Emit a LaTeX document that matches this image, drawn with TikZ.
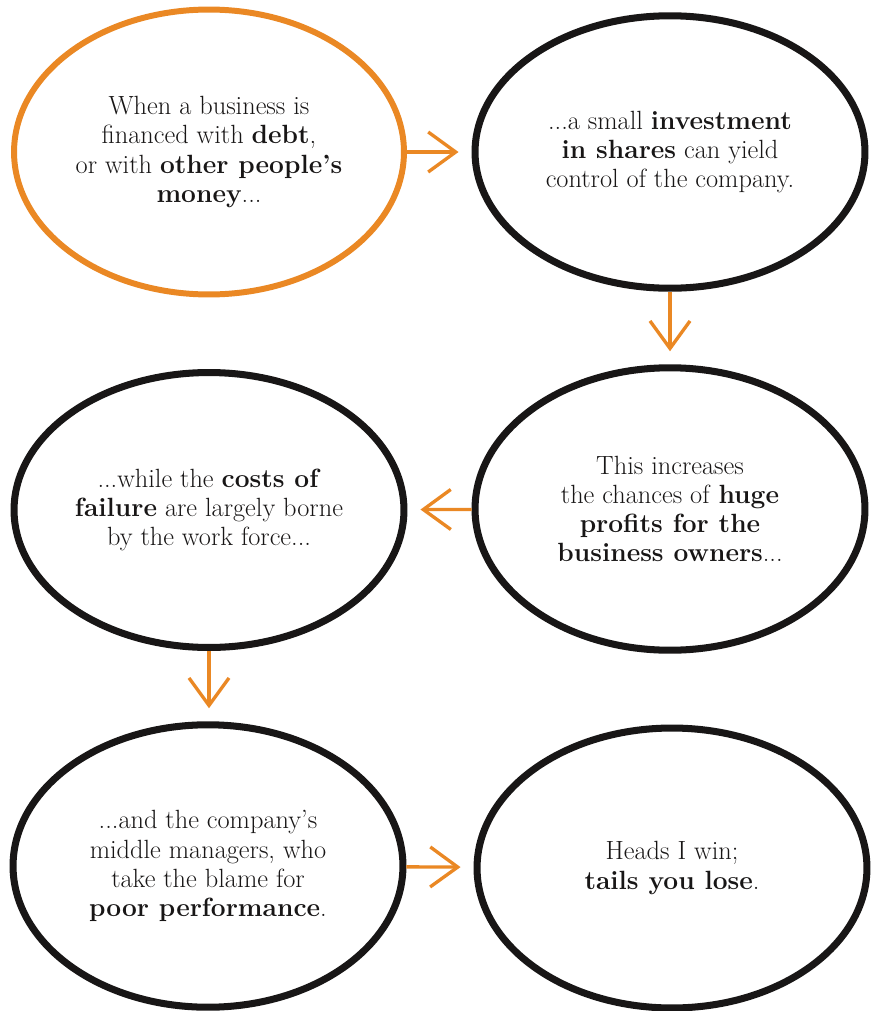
\documentclass[tikz,border=0pt]{standalone}
\usetikzlibrary{shapes.geometric,arrows.meta}
\definecolor{bizorange}{RGB}{234,136,36}
\definecolor{inkblack}{RGB}{24,22,22}
\begin{document}
\begin{tikzpicture}[
		x=0.02cm, y=-0.02cm,
		>={Straight Barb[length=0.55cm,width=0.8cm]},
		bubble/.style={ellipse, draw=inkblack, line width=4pt, fill=white, minimum width=7.8cm, minimum height=5.5cm, inner sep=0pt, align=center, text=inkblack, font=\fontsize{15}{16.6}\selectfont},
		firstbubble/.style={bubble, draw=bizorange, line width=3.4pt},
		link/.style={->, draw=bizorange, line width=1.9pt, shorten >=0.26cm}
	]
		\useasboundingbox (0,0) rectangle (871,1011);
		\def\lcol{209}
		\def\rcol{670}
		\node[firstbubble, minimum height=5.7cm] (debt) at (\lcol,152) {When a business is\\ financed with \textbf{debt},\\ or with \textbf{other people's}\\ \textbf{money}...};
		\node[bubble, minimum height=5.45cm] (shares) at (\rcol,152) {...a small \textbf{investment}\\ \textbf{in shares} can yield\\ control of the company.};
		\node[bubble, minimum height=5.65cm] (profits) at (\rcol,509) {This increases\\ the chances of \textbf{huge}\\ \textbf{profits for the}\\ \textbf{business owners}...};
		\node[bubble] (failure) at (\lcol,510) {...while the \textbf{costs of}\\ \textbf{failure} are largely borne\\ by the work force...};
		\node[bubble, minimum height=5.65cm] (managers) at (208,866) {...and the company's\\ middle managers, who\\ take the blame for\\ \textbf{poor performance}.};
		\node[bubble, minimum height=5.6cm] (lose) at (672,868) {Heads I win;\\ \textbf{tails you lose}.};
		\draw[link] (debt) -- (shares);
		\draw[link] (shares) -- (profits);
		\draw[link] (profits) -- (failure);
		\draw[link] (failure.south) -- (failure.south |- managers.north);
		\draw[link] (managers) -- (lose);
	\end{tikzpicture}
\end{document}
